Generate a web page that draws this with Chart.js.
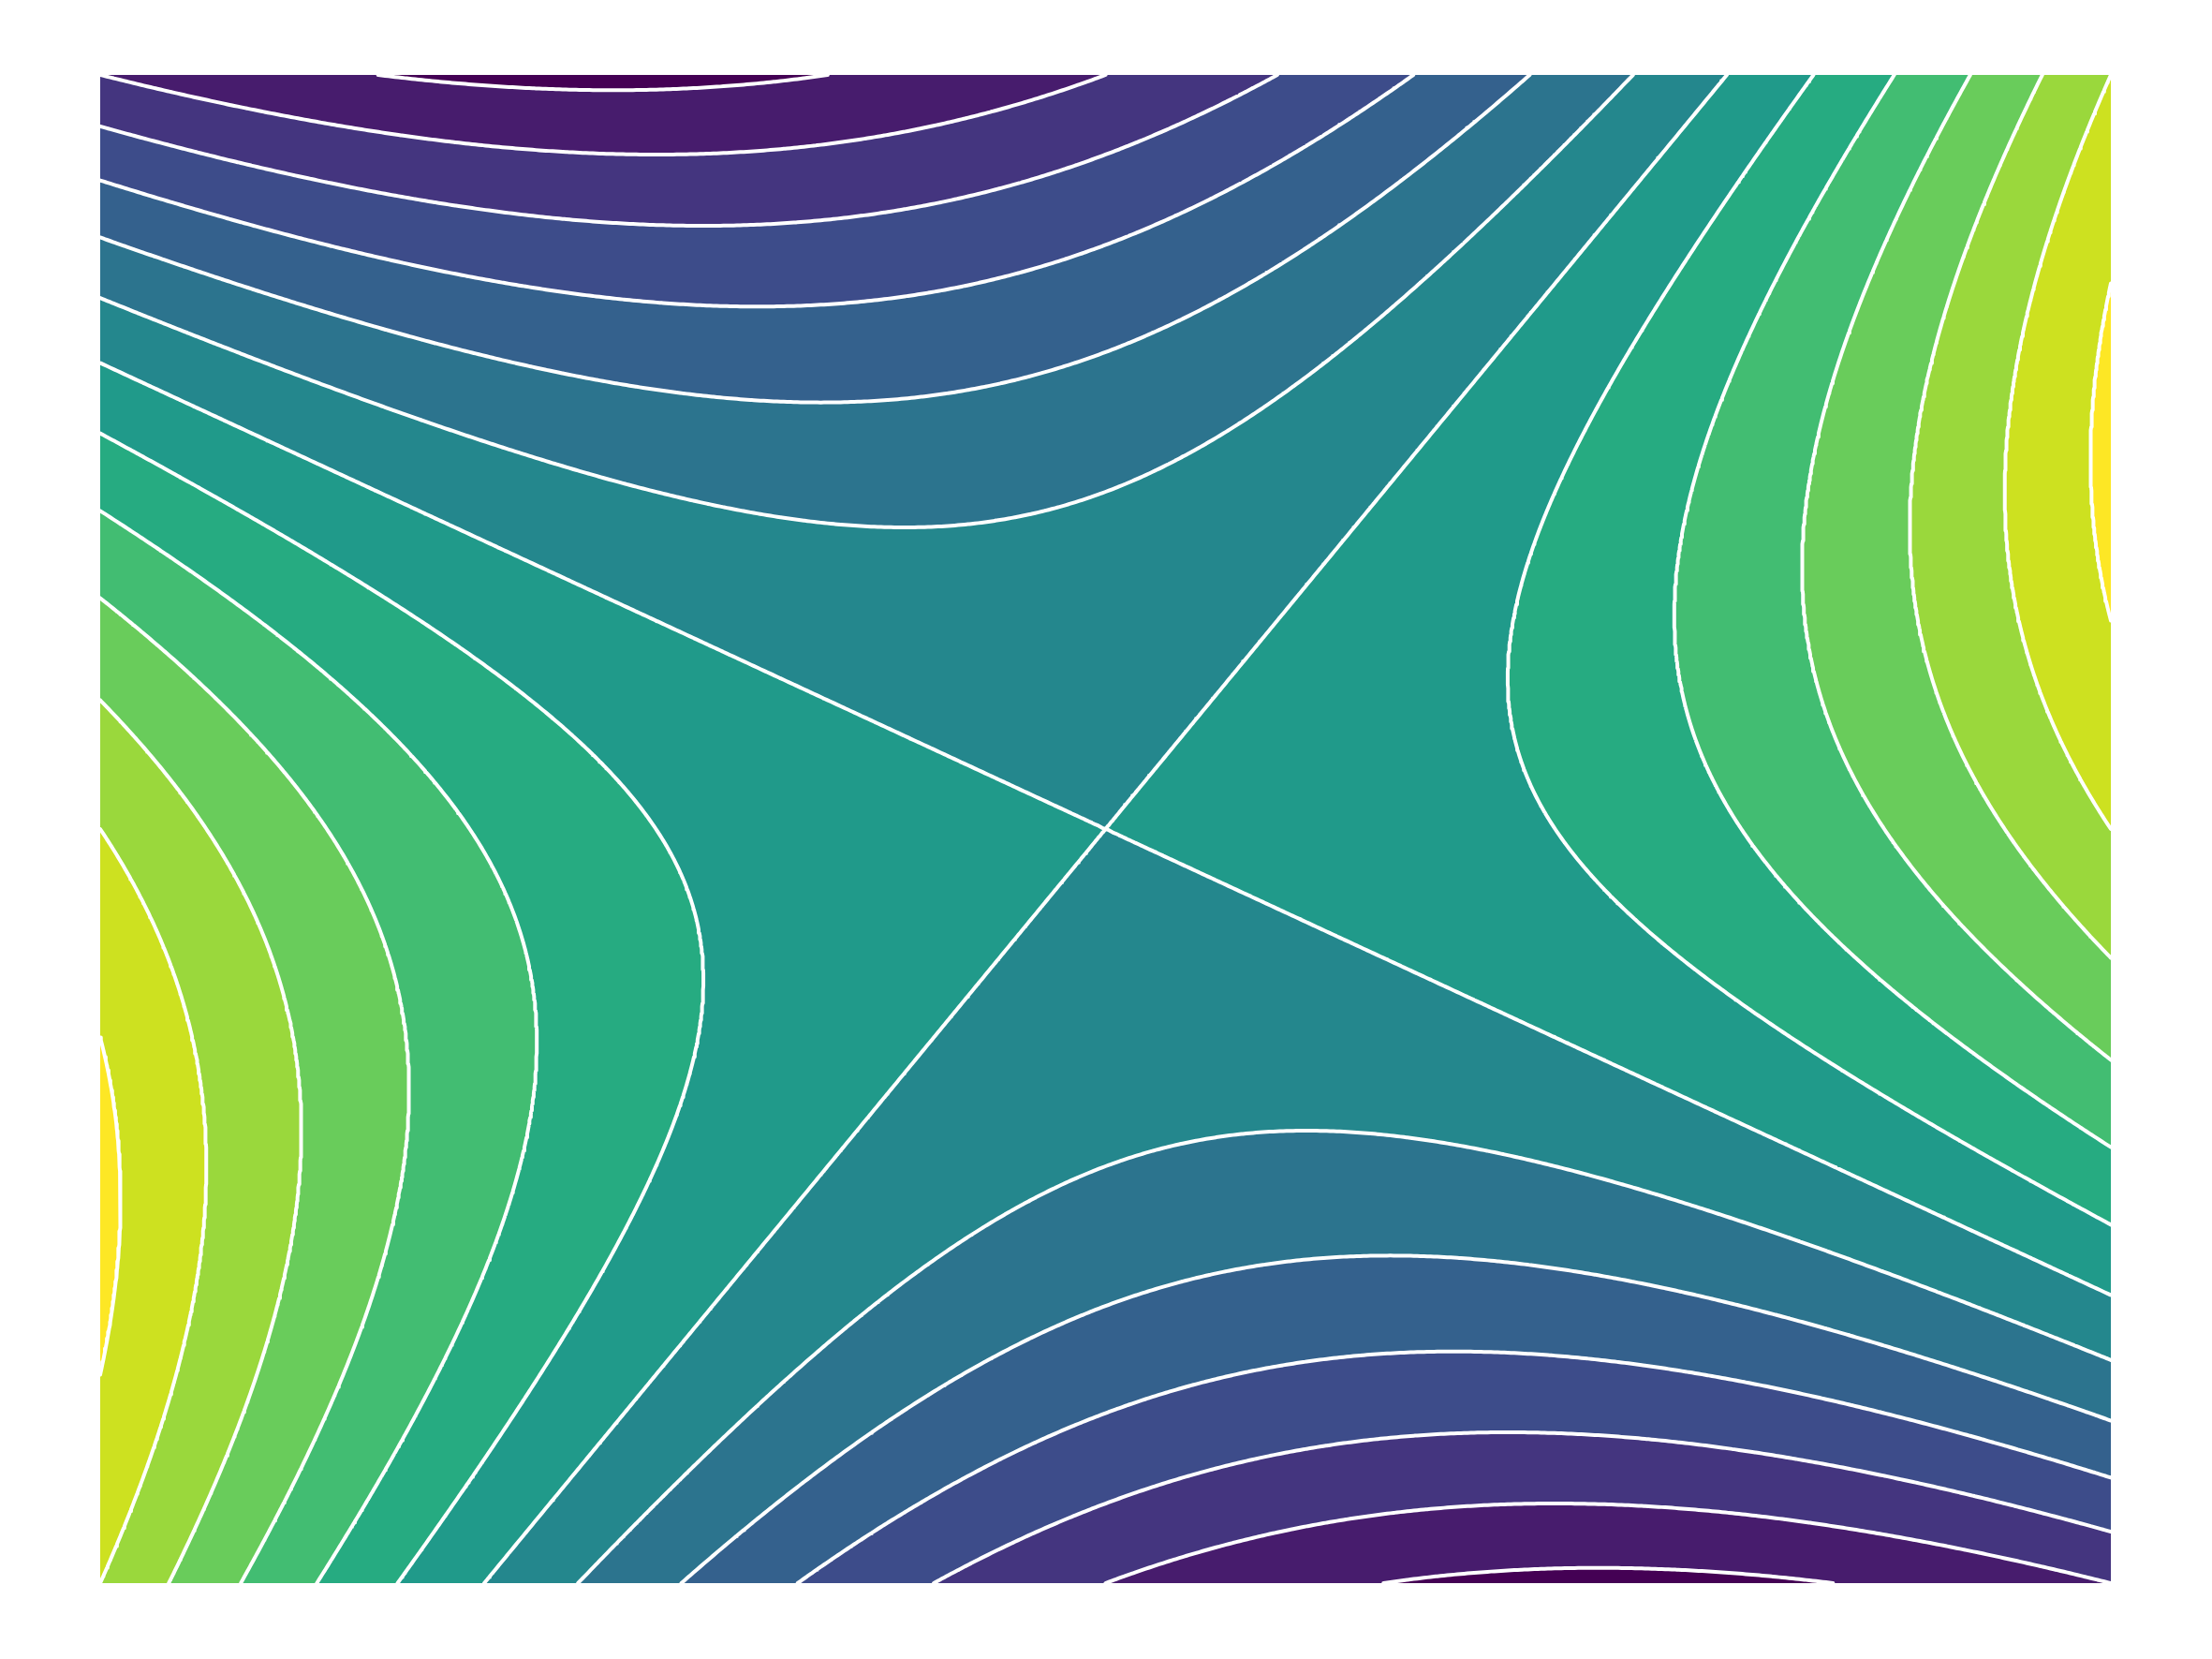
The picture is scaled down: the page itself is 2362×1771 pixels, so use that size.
<!DOCTYPE html>
<html>
<head>
<meta charset="utf-8">
<title>Saddle contour</title>
<script src="https://cdn.jsdelivr.net/npm/chart.js@4.4.1/dist/chart.umd.min.js"></script>
<style>
  html, body { margin: 0; padding: 0; background: #ffffff; }
  canvas { display: block; }
</style>
</head>
<body>
<canvas id="contour" width="2362" height="1771"></canvas>
<script>
// Sample grid (x to the right, y upwards, both -1..1)
const xNodes = [-1, 0, 1];
const yNodes = [-1, 0, 1];

// z at the nodes, one row per y node
const zBottom = [1, -1, -1];
const zMiddle = [1, 0, 1];
const zTop = [-1, -1, 1];

// Contour levels (the white lines)
const levels = [-1.2, -1.0, -0.8, -0.6, -0.4, -0.2, 0, 0.2, 0.4, 0.6, 0.8, 1.0, 1.2];

const zRows = [zBottom, zMiddle, zTop];

// viridis anchors, used to colour the bands
const viridisStops = [
  [0, '#440154'], [1 / 9, '#482878'], [2 / 9, '#3e4989'], [0.25, '#3b528b'],
  [3 / 9, '#31688e'], [4 / 9, '#26828e'], [0.5, '#21918c'], [5 / 9, '#1f9e89'],
  [0.6, '#22a884'], [6 / 9, '#35b779'], [0.75, '#5ec962'], [7 / 9, '#6ece58'],
  [8 / 9, '#b5de2b'], [0.9, '#bddf26'], [0.95, '#dfe318'], [1, '#fde725'],
];

function hexToRgb(hex) {
  const n = parseInt(hex.slice(1), 16);
  return [(n >> 16) & 255, (n >> 8) & 255, n & 255];
}

function viridis(t) {
  for (let k = 1; k < viridisStops.length; k++) {
    const [t1, c1] = viridisStops[k];
    if (t <= t1 + 1e-9) {
      const [t0, c0] = viridisStops[k - 1];
      const f = (t - t0) / (t1 - t0);
      const a = hexToRgb(c0), b = hexToRgb(c1);
      return a.map((v, i) => Math.round(v + f * (b[i] - v)));
    }
  }
  return hexToRgb(viridisStops[viridisStops.length - 1][1]);
}

// one colour per band, darkest band first
const bandColors = [];
for (let i = 0; i <= levels.length; i++) {
  bandColors.push(viridis(i / levels.length));
}

// Lagrange weights for the node positions
function lagrange(nodes, t) {
  return nodes.map((nk, k) => {
    let w = 1;
    nodes.forEach((nm, m) => {
      if (m !== k) w *= (t - nm) / (nk - nm);
    });
    return w;
  });
}

function fieldFromWeights(wx, wy) {
  let z = 0;
  for (let j = 0; j < yNodes.length; j++) {
    for (let i = 0; i < xNodes.length; i++) {
      z += zRows[j][i] * wx[i] * wy[j];
    }
  }
  return z;
}

function fieldAt(x, y) {
  return fieldFromWeights(lagrange(xNodes, x), lagrange(yNodes, y));
}

// ---- marching squares for the contour lines ----
const NX = 600;
const NY = 450;
const xMin = xNodes[0], xMax = xNodes[xNodes.length - 1];
const yMin = yNodes[0], yMax = yNodes[yNodes.length - 1];
const gx = (i) => xMin + (xMax - xMin) * i / NX;
const gy = (j) => yMin + (yMax - yMin) * j / NY;

const gridVals = new Float64Array((NX + 1) * (NY + 1));
for (let j = 0; j <= NY; j++) {
  for (let i = 0; i <= NX; i++) {
    gridVals[j * (NX + 1) + i] = fieldAt(gx(i), gy(j));
  }
}
const val = (i, j) => gridVals[j * (NX + 1) + i];
const hKey = (i, j) => 2 * (j * (NX + 1) + i);
const vKey = (i, j) => 2 * (j * (NX + 1) + i) + 1;

function edgePoint(key, level) {
  const horizontal = key % 2 === 0;
  const idx = Math.floor(key / 2);
  const i = idx % (NX + 1);
  const j = Math.floor(idx / (NX + 1));
  if (horizontal) {
    const a = val(i, j), b = val(i + 1, j);
    const t = (level - a) / (b - a);
    return { x: gx(i) + t * (gx(i + 1) - gx(i)), y: gy(j) };
  }
  const a = val(i, j), b = val(i, j + 1);
  const t = (level - a) / (b - a);
  return { x: gx(i), y: gy(j) + t * (gy(j + 1) - gy(j)) };
}

function traceLevel(level) {
  const segs = [];
  for (let j = 0; j < NY; j++) {
    for (let i = 0; i < NX; i++) {
      const v00 = val(i, j), v10 = val(i + 1, j), v11 = val(i + 1, j + 1), v01 = val(i, j + 1);
      const b00 = v00 >= level, b10 = v10 >= level, b11 = v11 >= level, b01 = v01 >= level;
      const e = [];
      if (b00 !== b10) e.push([0, hKey(i, j)]);
      if (b10 !== b11) e.push([1, vKey(i + 1, j)]);
      if (b01 !== b11) e.push([2, hKey(i, j + 1)]);
      if (b00 !== b01) e.push([3, vKey(i, j)]);
      if (e.length === 2) {
        segs.push([e[0][1], e[1][1]]);
      } else if (e.length === 4) {
        const centre = (v00 + v10 + v11 + v01) / 4 >= level;
        if (centre === b00) {
          segs.push([e[0][1], e[1][1]]);
          segs.push([e[2][1], e[3][1]]);
        } else {
          segs.push([e[3][1], e[0][1]]);
          segs.push([e[1][1], e[2][1]]);
        }
      }
    }
  }

  // join segments into polylines
  const adj = new Map();
  segs.forEach((s, k) => {
    for (const key of s) {
      if (!adj.has(key)) adj.set(key, []);
      adj.get(key).push(k);
    }
  });
  const used = new Array(segs.length).fill(false);
  const chains = [];
  for (let k = 0; k < segs.length; k++) {
    if (used[k]) continue;
    used[k] = true;
    let chain = [segs[k][0], segs[k][1]];
    for (let dir = 0; dir < 2; dir++) {
      while (true) {
        const end = chain[chain.length - 1];
        const next = (adj.get(end) || []).find((n) => !used[n]);
        if (next === undefined) break;
        used[next] = true;
        const s = segs[next];
        chain.push(s[0] === end ? s[1] : s[0]);
      }
      chain.reverse();
    }
    chains.push(chain.map((key) => edgePoint(key, level)));
  }
  return chains;
}

const datasets = [];
levels.forEach((level) => {
  traceLevel(level).forEach((points) => {
    datasets.push({
      label: 'z = ' + level,
      data: points,
      showLine: true,
      borderColor: '#ffffff',
      borderWidth: 4,
      borderJoinStyle: 'round',
      borderCapStyle: 'round',
      pointRadius: 0,
      tension: 0,
      fill: false,
      clip: 0,
    });
  });
});

// Plugin that paints the filled bands pixel by pixel through the scales
const bandFillPlugin = {
  id: 'bandFill',
  beforeDatasetsDraw(chart) {
    const { ctx, chartArea, scales } = chart;
    const x0 = Math.round(chartArea.left);
    const y0 = Math.round(chartArea.top);
    const w = Math.round(chartArea.right) - x0;
    const h = Math.round(chartArea.bottom) - y0;
    const img = ctx.createImageData(w, h);
    const wxs = [];
    const wys = [];
    for (let px = 0; px < w; px++) {
      wxs.push(lagrange(xNodes, scales.x.getValueForPixel(x0 + px + 0.5)));
    }
    for (let py = 0; py < h; py++) {
      wys.push(lagrange(yNodes, scales.y.getValueForPixel(y0 + py + 0.5)));
    }
    let p = 0;
    for (let py = 0; py < h; py++) {
      for (let px = 0; px < w; px++) {
        const z = fieldFromWeights(wxs[px], wys[py]);
        let band = 0;
        while (band < levels.length && z > levels[band]) band++;
        const c = bandColors[band];
        img.data[p++] = c[0];
        img.data[p++] = c[1];
        img.data[p++] = c[2];
        img.data[p++] = 255;
      }
    }
    ctx.putImageData(img, x0, y0);
  },
};

new Chart(document.getElementById('contour'), {
  type: 'scatter',
  data: { datasets },
  options: {
    responsive: false,
    devicePixelRatio: 1,
    animation: false,
    events: [],
    parsing: false,
    normalized: true,
    layout: { padding: { left: 107, right: 108, top: 80, bottom: 81 } },
    scales: {
      x: { type: 'linear', min: xMin, max: xMax, display: false },
      y: { type: 'linear', min: yMin, max: yMax, display: false },
    },
    plugins: {
      legend: { display: false },
      tooltip: { enabled: false },
    },
  },
  plugins: [bandFillPlugin],
});
</script>
</body>
</html>
